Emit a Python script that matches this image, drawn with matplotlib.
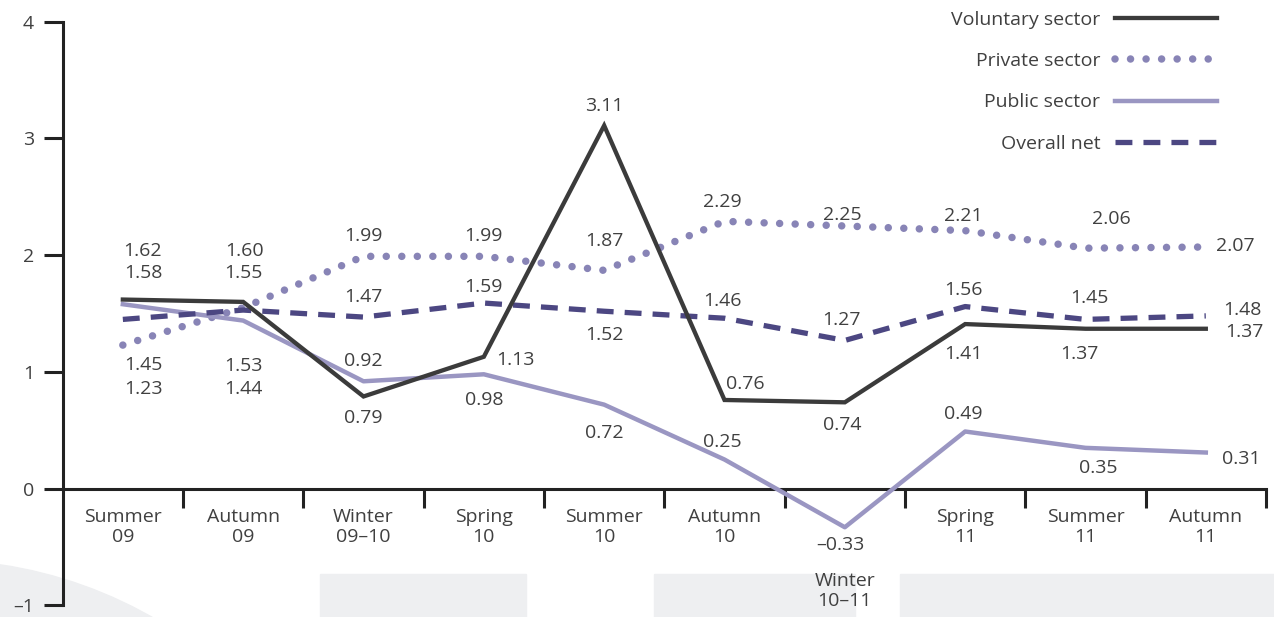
import matplotlib
matplotlib.use('Agg')
import matplotlib.pyplot as plt
from matplotlib.patches import Ellipse, Rectangle

plt.rcParams['font.family'] = ['Open Sans', 'DejaVu Sans']

seasons = ['Summer\n09', 'Autumn\n09', 'Winter\n09–10', 'Spring\n10', 'Summer\n10',
           'Autumn\n10', 'Winter\n10–11', 'Spring\n11', 'Summer\n11', 'Autumn\n11']

voluntary = [1.62, 1.60, 0.79, 1.13, 3.11, 0.76, 0.74, 1.41, 1.37, 1.37]
private = [1.23, 1.55, 1.99, 1.99, 1.87, 2.29, 2.25, 2.21, 2.06, 2.07]
public = [1.58, 1.44, 0.92, 0.98, 0.72, 0.25, -0.33, 0.49, 0.35, 0.31]
overall = [1.45, 1.53, 1.47, 1.59, 1.52, 1.46, 1.27, 1.56, 1.45, 1.48]

# label offsets from each point, in pixels (dx, dy)
vol_off = [(20, 49), (1, 51), (0, -22), (32, -3), (0, 20), (21, 16), (-3, -23), (-2, -30), (-6, -25), (39, -3)]
priv_off = [(21, -44), (0, 35), (0, 20), (0, 20), (0, 29), (-2, 19), (-3, 11), (-2, 15), (26, 29), (30, 1)]
pub_off = [(21, 31), (0, -68), (0, 20), (0, -26), (0, -28), (-2, 18), (-4, -18), (-2, 18), (13, -20), (35, -6)]
over_off = [(21, -46), (0, -56), (0, 20), (0, 16), (0, -24), (-2, 17), (-3, 20), (-2, 17), (4, 21), (37, 6)]

txt = '#404040'
fig = plt.figure(figsize=(12.74, 6.17), dpi=100)
ax = fig.add_axes([0.0492, 0.01864, 0.9445, 0.9463])
ax.set_facecolor('none')

# light background decorations
bg = '#eeeff1'
fig.add_artist(Ellipse((-0.0502, -0.6143), 0.6845, 1.4133, transform=fig.transFigure,
                       color=bg, zorder=-5))
for x0, x1 in [(320, 526), (654, 855), (900, 1274)]:
    fig.add_artist(Rectangle((x0 / 1274, 0), (x1 - x0) / 1274, 43 / 617,
                             transform=fig.transFigure, color=bg, zorder=-5))

x = list(range(len(seasons)))
ax.plot(x, voluntary, color='#3b3b3b', lw=3.1, solid_joinstyle='miter', label='Voluntary sector', zorder=4)
ax.plot(x, private, color='#8884b6', lw=5.4, linestyle=(0, (0.001, 2.07)),
        dash_capstyle='round', label='Private sector', zorder=3)
ax.plot(x, public, color='#9a96c2', lw=3.2, label='Public sector', zorder=3)
ax.plot(x, overall, color='#4c4782', lw=3.8, linestyle=(0, (3.2, 2.1)),
        label='Overall net', zorder=3)

for vals, offs in [(voluntary, vol_off), (private, priv_off), (public, pub_off), (overall, over_off)]:
    for i, (v, (dx, dy)) in enumerate(zip(vals, offs)):
        ax.annotate(f'{v:.2f}'.replace('-', '–'), xy=(i, v), xytext=(dx, dy),
                    textcoords='offset pixels', ha='center', va='center',
                    fontsize=14, color=txt, annotation_clip=False)

# category labels under the axis
for i, s in enumerate(seasons):
    drop = -19 if i != 6 else -83
    ax.annotate(s, xy=(i, 0), xytext=(0, drop), textcoords='offset pixels',
                ha='center', va='top', fontsize=14, color=txt, linespacing=1.17,
                annotation_clip=False)

ax.set_xlim(-0.5, 9.5)
ax.set_ylim(-1, 4)
ax.spines['top'].set_visible(False)
ax.spines['right'].set_visible(False)
ax.spines['bottom'].set_position(('data', 0))
for sp in ['left', 'bottom']:
    ax.spines[sp].set_linewidth(2.2)
    ax.spines[sp].set_color('#222222')
ax.set_xticks([])
ax.set_xticks([i + 0.5 for i in x], minor=True)
ax.tick_params(axis='x', which='minor', direction='out', length=13.7, width=2.2, color='#222222')
ax.set_yticks(range(-1, 5))
ax.set_yticklabels(['–1', '0', '1', '2', '3', '4'])
ax.tick_params(axis='y', direction='out', length=13.7, width=2.2, color='#222222',
               pad=7, labelsize=14, labelcolor=txt)

leg = ax.legend(loc='upper right', bbox_to_anchor=(1217 / 1274, 0.982),
                bbox_transform=fig.transFigure, frameon=False, markerfirst=False,
                fontsize=14, handlelength=5.26, handletextpad=0.75,
                labelspacing=1.19, borderpad=0, borderaxespad=0)
for t in leg.get_texts():
    t.set_color(txt)

fig.savefig('out.png', dpi=100)
